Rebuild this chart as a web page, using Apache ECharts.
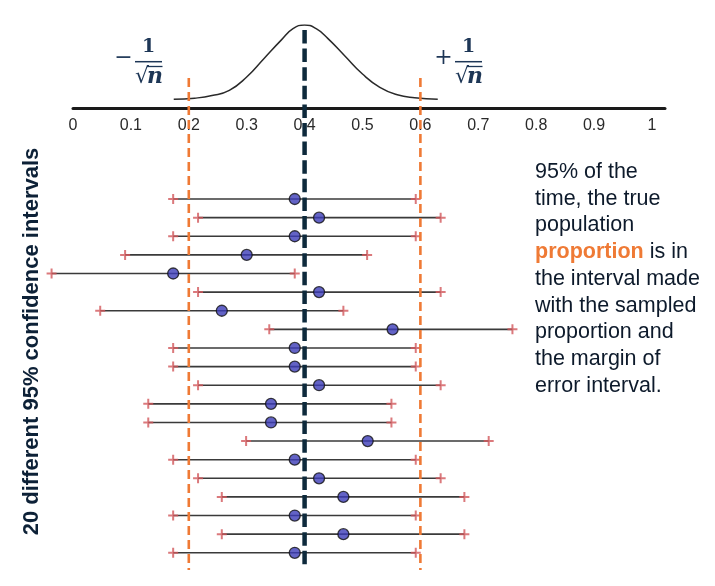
<!DOCTYPE html>
<html>
<head>
<meta charset="utf-8">
<script src="https://cdn.jsdelivr.net/npm/echarts@6/dist/echarts.min.js"></script>
<style>
html, body { margin: 0; padding: 0; background: #fff; }
#chart { width: 715px; height: 586px; }
</style>
</head>
<body>
<div id="chart"></div>
<script>
// tick labels of the proportion axis
var tickValues = [0, 0.1, 0.2, 0.3, 0.4, 0.5, 0.6, 0.7, 0.8, 0.9, 1];

// sampling distribution sketch (relative height, peak = 1)
var curveX = [0.174, 0.21, 0.24, 0.27, 0.30, 0.33, 0.36, 0.38, 0.40, 0.42, 0.44, 0.47, 0.50, 0.53, 0.56, 0.59, 0.630];
var curveY = [0, 0.015, 0.05, 0.12, 0.30, 0.55, 0.80, 0.95, 1.0, 0.95, 0.82, 0.58, 0.34, 0.16, 0.06, 0.02, 0];

var trueProportion = [0.4];
var marginLines = [0.2, 0.6];

// 20 confidence intervals, top to bottom
var rowIds = [1, 2, 3, 4, 5, 6, 7, 8, 9, 10, 11, 12, 13, 14, 15, 16, 17, 18, 19, 20];
var lowerBounds = [0.173, 0.216, 0.173, 0.090, -0.037, 0.216, 0.047, 0.339, 0.173, 0.173, 0.216, 0.130, 0.130, 0.299, 0.173, 0.216, 0.257, 0.173, 0.257, 0.173];
var sampleProps = [0.383, 0.425, 0.383, 0.300, 0.173, 0.425, 0.257, 0.552, 0.383, 0.383, 0.425, 0.342, 0.342, 0.509, 0.383, 0.425, 0.467, 0.383, 0.467, 0.383];
var upperBounds = [0.592, 0.635, 0.592, 0.508, 0.383, 0.635, 0.467, 0.759, 0.592, 0.592, 0.635, 0.550, 0.550, 0.718, 0.592, 0.635, 0.676, 0.592, 0.676, 0.592];

var noteLines = ['95% of the', 'time, the true', 'population', '{hl|proportion} is in', 'the interval made', 'with the sampled', 'proportion and', 'the margin of', 'error interval.'];

var myChart = echarts.init(document.getElementById('chart'));

var xMin = 0, xMax = 1.0225;
function hiddenX(i) {
    return { type: 'value', gridIndex: i, min: xMin, max: xMax, show: false };
}
function hiddenY(i, min, max, inverse) {
    return { type: 'value', gridIndex: i, min: min, max: max, inverse: !!inverse, show: false };
}

function vline(color, width, dash) {
    return function (params, api) {
        var x = api.coord([api.value(0), 0])[0];
        var cs = params.coordSys;
        return {
            type: 'line',
            shape: { x1: x, y1: cs.y, x2: x, y2: cs.y + cs.height },
            style: { stroke: color, lineWidth: width, lineDash: dash }
        };
    };
}

var curveData = curveX.map(function (x, i) { return [x, curveY[i]]; });
var rangeData = rowIds.map(function (r, i) { return [lowerBounds[i], upperBounds[i], r]; });
var endData = [];
rowIds.forEach(function (r, i) {
    endData.push([lowerBounds[i], r]);
    endData.push([upperBounds[i], r]);
});
var pointData = rowIds.map(function (r, i) { return [sampleProps[i], r]; });

// the 1/sqrt(n) labels
var navy = '#1d3656';
function formula(sign, cx) {
    return {
        type: 'group',
        children: [
            { type: 'text', x: cx - 25, y: 58, style: { text: sign, font: '22px "DejaVu Serif"', fill: navy, align: 'center', verticalAlign: 'middle' } },
            { type: 'text', x: cx, y: 47.5, style: { text: '1', font: 'bold 19px "DejaVu Serif"', fill: navy, align: 'center', verticalAlign: 'middle' } },
            { type: 'line', shape: { x1: cx - 13.5, y1: 61.7, x2: cx + 13.5, y2: 61.7 }, style: { stroke: navy, lineWidth: 1.5 } },
            { type: 'text', x: cx - 6.5, y: 77, style: { text: '\u221A', font: '22px "DejaVu Serif"', fill: navy, align: 'center', verticalAlign: 'middle' } },
            { type: 'line', shape: { x1: cx - 1.5, y1: 66.5, x2: cx + 14, y2: 66.5 }, style: { stroke: navy, lineWidth: 1.3 } },
            { type: 'text', x: cx + 6.5, y: 77.5, style: { text: 'n', font: 'italic bold 22px "DejaVu Serif"', fill: navy, align: 'center', verticalAlign: 'middle' } }
        ]
    };
}

var option = {
    animation: false,
    backgroundColor: '#fff',
    grid: [
        { left: 73, right: 50, top: 25, height: 83.5 },      // curve + axis
        { left: 73, right: 50, top: 180.4, height: 391 },    // intervals
        { left: 73, right: 50, top: 78, height: 492 },       // orange margin lines
        { left: 73, right: 50, top: 30, height: 536 }        // true proportion line
    ],
    xAxis: [
        {
            type: 'value', gridIndex: 0, min: xMin, max: xMax, position: 'bottom',
            axisLine: { show: true, onZero: false, lineStyle: { color: '#1a1a1a', width: 3 } },
            axisTick: { show: false },
            splitLine: { show: false },
            axisLabel: {
                customValues: tickValues,
                color: '#2a2a2a', fontSize: 16, fontFamily: 'Liberation Sans', margin: 9
            }
        },
        hiddenX(1), hiddenX(2), hiddenX(3)
    ],
    yAxis: [
        hiddenY(0, -0.124, 1),
        hiddenY(1, 0, 21, true),
        hiddenY(2, 0, 1),
        hiddenY(3, 0, 1)
    ],
    series: [
        {
            type: 'line', xAxisIndex: 0, yAxisIndex: 0,
            data: curveData, smooth: 0.5,
            symbol: 'none', lineStyle: { color: '#2a2a2a', width: 1.5 }, z: 2
        },
        {
            type: 'custom', xAxisIndex: 1, yAxisIndex: 1, data: rangeData,
            renderItem: function (params, api) {
                var a = api.coord([api.value(0), api.value(2)]);
                var b = api.coord([api.value(1), api.value(2)]);
                return { type: 'line', shape: { x1: a[0], y1: a[1], x2: b[0], y2: b[1] }, style: { stroke: '#3a3a3a', lineWidth: 1.6 } };
            },
            z: 2
        },
        {
            type: 'scatter', xAxisIndex: 1, yAxisIndex: 1, data: endData, clip: false,
            symbol: 'path://M4,0h2v4h4v2h-4v4h-2v-4h-4v-2h4z', symbolSize: 10,
            itemStyle: { color: '#d2575b' }, z: 3
        },
        {
            type: 'custom', xAxisIndex: 2, yAxisIndex: 2,
            data: marginLines.map(function (v) { return [v]; }),
            renderItem: vline('#ef7a35', 2.6, [9, 5]), z: 4
        },
        {
            type: 'custom', xAxisIndex: 3, yAxisIndex: 3,
            data: trueProportion.map(function (v) { return [v]; }),
            renderItem: vline('#0e2a3c', 4.5, [13.5, 5.1]), z: 4
        },
        {
            type: 'scatter', xAxisIndex: 1, yAxisIndex: 1, data: pointData, clip: false,
            symbol: 'circle', symbolSize: 11,
            itemStyle: { color: '#3c3cb8', borderColor: '#111', borderWidth: 1.3 }, z: 5
        }
    ],
    graphic: [
        formula('\u2212', 148.5),
        formula('+', 468.5),
        {
            type: 'text', x: 32, y: 341.5, rotation: Math.PI / 2,
            style: {
                text: '20 different 95% confidence intervals',
                font: 'bold 22px "Liberation Sans"', fill: '#0d2137',
                align: 'center', verticalAlign: 'middle'
            }
        },
        {
            type: 'text', x: 535, y: 158.5,
            style: {
                text: noteLines.join('\n'),
                font: '21.5px "Liberation Sans"', fill: '#0d1a2b',
                lineHeight: 26.75, verticalAlign: 'top',
                rich: {
                    hl: { font: 'bold 21.5px "Liberation Sans"', fill: '#ef7a35', lineHeight: 26.75 }
                }
            }
        }
    ]
};
myChart.setOption(option);
</script>
</body>
</html>
